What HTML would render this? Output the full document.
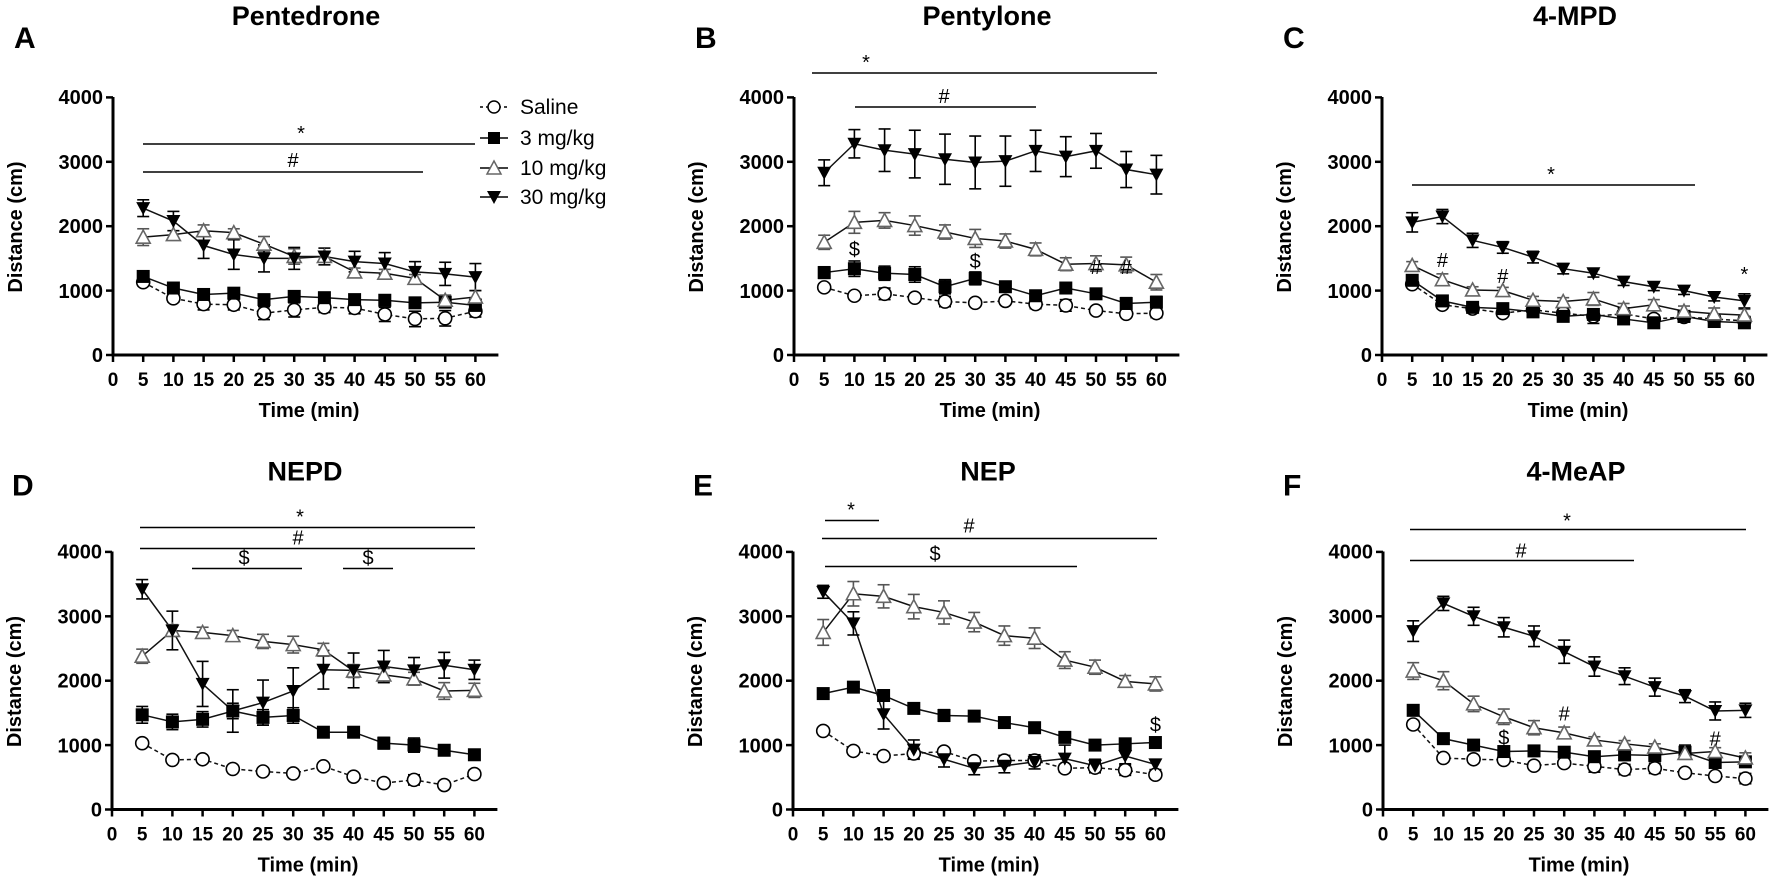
<!DOCTYPE html>
<html><head><meta charset="utf-8"><style>
html,body{margin:0;padding:0;background:#fff;}
svg{display:block;font-family:"Liberation Sans",Arial,sans-serif;}
.yl{font-weight:bold;font-size:20px;text-anchor:end;}
.xl{font-weight:bold;font-size:19px;text-anchor:middle;}
.ax{font-weight:bold;font-size:20px;text-anchor:middle;}
.ti{font-weight:bold;font-size:27px;text-anchor:middle;}
.le{font-weight:bold;font-size:30px;}
.sg{font-size:20px;text-anchor:middle;}
.lg{font-size:21px;}
</style></head><body>
<svg id="s" width="1772" height="879" viewBox="0 0 1772 879" xmlns="http://www.w3.org/2000/svg">
<g id="geo"></g>
<text class="lg" x="520" y="114">Saline</text>
<text class="lg" x="520" y="145">3 mg/kg</text>
<text class="lg" x="520" y="175">10 mg/kg</text>
<text class="lg" x="520" y="204">30 mg/kg</text>

<g transform="translate(113,355)">
<text class="ti" x="193" y="-330">Pentedrone</text>
<text class="le" x="-99" y="-307">A</text>
<g class="yl"><text x="-10" y="7">0</text><text x="-10" y="-57">1000</text><text x="-10" y="-122">2000</text><text x="-10" y="-186">3000</text><text x="-10" y="-251">4000</text></g>
<g class="xl"><text x="0" y="31">0</text><text x="30.2" y="31">5</text><text x="60.4" y="31">10</text><text x="90.6" y="31">15</text><text x="120.8" y="31">20</text><text x="151" y="31">25</text><text x="181.2" y="31">30</text><text x="211.4" y="31">35</text><text x="241.6" y="31">40</text><text x="271.8" y="31">45</text><text x="302" y="31">50</text><text x="332.2" y="31">55</text><text x="362.4" y="31">60</text></g>
<text class="ax" x="196" y="62">Time (min)</text>
<text class="ax" transform="translate(-91,-128) rotate(-90)">Distance (cm)</text>
<text class="sg" x="188" y="-215">*</text><text class="sg" x="180" y="-188">#</text>
</g>

<g transform="translate(794,355)">
<text class="ti" x="193" y="-330">Pentylone</text>
<text class="le" x="-99" y="-307">B</text>
<g class="yl"><text x="-10" y="7">0</text><text x="-10" y="-57">1000</text><text x="-10" y="-122">2000</text><text x="-10" y="-186">3000</text><text x="-10" y="-251">4000</text></g>
<g class="xl"><text x="0" y="31">0</text><text x="30.2" y="31">5</text><text x="60.4" y="31">10</text><text x="90.6" y="31">15</text><text x="120.8" y="31">20</text><text x="151" y="31">25</text><text x="181.2" y="31">30</text><text x="211.4" y="31">35</text><text x="241.6" y="31">40</text><text x="271.8" y="31">45</text><text x="302" y="31">50</text><text x="332.2" y="31">55</text><text x="362.4" y="31">60</text></g>
<text class="ax" x="196" y="62">Time (min)</text>
<text class="ax" transform="translate(-91,-128) rotate(-90)">Distance (cm)</text>
<text class="sg" x="72" y="-286">*</text><text class="sg" x="150" y="-252">#</text>
<text class="sg" x="60.4" y="-99">$</text><text class="sg" x="181.2" y="-87">$</text>
<text class="sg" x="302" y="-81">#</text><text class="sg" x="332.2" y="-81">#</text>
</g>

<g transform="translate(1382,355)">
<text class="ti" x="193" y="-330">4-MPD</text>
<text class="le" x="-99" y="-307">C</text>
<g class="yl"><text x="-10" y="7">0</text><text x="-10" y="-57">1000</text><text x="-10" y="-122">2000</text><text x="-10" y="-186">3000</text><text x="-10" y="-251">4000</text></g>
<g class="xl"><text x="0" y="31">0</text><text x="30.2" y="31">5</text><text x="60.4" y="31">10</text><text x="90.6" y="31">15</text><text x="120.8" y="31">20</text><text x="151" y="31">25</text><text x="181.2" y="31">30</text><text x="211.4" y="31">35</text><text x="241.6" y="31">40</text><text x="271.8" y="31">45</text><text x="302" y="31">50</text><text x="332.2" y="31">55</text><text x="362.4" y="31">60</text></g>
<text class="ax" x="196" y="62">Time (min)</text>
<text class="ax" transform="translate(-91,-128) rotate(-90)">Distance (cm)</text>
<text class="sg" x="169" y="-174">*</text>
<text class="sg" x="60.4" y="-88">#</text><text class="sg" x="120.8" y="-72">#</text>
<text class="sg" x="362.4" y="-74">*</text>
</g>

<g transform="translate(112,809.5)">
<text class="ti" x="193" y="-329">NEPD</text>
<text class="le" x="-100" y="-314">D</text>
<g class="yl"><text x="-10" y="7">0</text><text x="-10" y="-57">1000</text><text x="-10" y="-122">2000</text><text x="-10" y="-186">3000</text><text x="-10" y="-251">4000</text></g>
<g class="xl"><text x="0" y="31">0</text><text x="30.2" y="31">5</text><text x="60.4" y="31">10</text><text x="90.6" y="31">15</text><text x="120.8" y="31">20</text><text x="151" y="31">25</text><text x="181.2" y="31">30</text><text x="211.4" y="31">35</text><text x="241.6" y="31">40</text><text x="271.8" y="31">45</text><text x="302" y="31">50</text><text x="332.2" y="31">55</text><text x="362.4" y="31">60</text></g>
<text class="ax" x="196" y="62">Time (min)</text>
<text class="ax" transform="translate(-91,-128) rotate(-90)">Distance (cm)</text>
<text class="sg" x="188" y="-286">*</text><text class="sg" x="186" y="-265">#</text>
<text class="sg" x="132" y="-245">$</text><text class="sg" x="256" y="-245">$</text>
</g>

<g transform="translate(793,809.5)">
<text class="ti" x="195" y="-329">NEP</text>
<text class="le" x="-100" y="-314">E</text>
<g class="yl"><text x="-10" y="7">0</text><text x="-10" y="-57">1000</text><text x="-10" y="-122">2000</text><text x="-10" y="-186">3000</text><text x="-10" y="-251">4000</text></g>
<g class="xl"><text x="0" y="31">0</text><text x="30.2" y="31">5</text><text x="60.4" y="31">10</text><text x="90.6" y="31">15</text><text x="120.8" y="31">20</text><text x="151" y="31">25</text><text x="181.2" y="31">30</text><text x="211.4" y="31">35</text><text x="241.6" y="31">40</text><text x="271.8" y="31">45</text><text x="302" y="31">50</text><text x="332.2" y="31">55</text><text x="362.4" y="31">60</text></g>
<text class="ax" x="196" y="62">Time (min)</text>
<text class="ax" transform="translate(-91,-128) rotate(-90)">Distance (cm)</text>
<text class="sg" x="58" y="-293">*</text><text class="sg" x="176" y="-277">#</text>
<text class="sg" x="142" y="-249">$</text><text class="sg" x="362.4" y="-78">$</text>
</g>

<g transform="translate(1383,809.5)">
<text class="ti" x="193" y="-329">4-MeAP</text>
<text class="le" x="-100" y="-314">F</text>
<g class="yl"><text x="-10" y="7">0</text><text x="-10" y="-57">1000</text><text x="-10" y="-122">2000</text><text x="-10" y="-186">3000</text><text x="-10" y="-251">4000</text></g>
<g class="xl"><text x="0" y="31">0</text><text x="30.2" y="31">5</text><text x="60.4" y="31">10</text><text x="90.6" y="31">15</text><text x="120.8" y="31">20</text><text x="151" y="31">25</text><text x="181.2" y="31">30</text><text x="211.4" y="31">35</text><text x="241.6" y="31">40</text><text x="271.8" y="31">45</text><text x="302" y="31">50</text><text x="332.2" y="31">55</text><text x="362.4" y="31">60</text></g>
<text class="ax" x="196" y="62">Time (min)</text>
<text class="ax" transform="translate(-91,-128) rotate(-90)">Distance (cm)</text>
<text class="sg" x="184" y="-282">*</text><text class="sg" x="138" y="-252">#</text>
<text class="sg" x="120.8" y="-65">$</text><text class="sg" x="181.2" y="-89">#</text><text class="sg" x="332.2" y="-64">#</text>
</g>
</svg>
<script>
(function(){
var NS="http://www.w3.org/2000/svg",G=document.getElementById("geo");
function el(t,a){var e=document.createElementNS(NS,t);for(var k in a)e.setAttribute(k,a[k]);G.appendChild(e);return e;}
var S=30.2,K=0.0644;
var P=[
{ax:113,y0:355,
 d:[[1130,880,790,780,650,700,740,730,630,560,570,680],[1220,1040,940,960,860,910,890,860,850,810,820,770],[1830,1870,1930,1900,1720,1530,1530,1290,1270,1190,850,900],[2280,2080,1700,1560,1500,1500,1530,1450,1420,1290,1260,1210]],
 e:[[50,60,90,80,100,110,80,90,110,120,120,90],[50,50,50,50,60,60,60,60,60,60,80,100],[130,60,90,60,120,120,60,60,60,60,80,100],[130,150,200,230,210,170,130,160,170,160,180,210]],
 bars:[[143,475,-211],[143,423,-183]]},
{ax:794,y0:355,
 d:[[1050,920,950,890,830,810,840,790,770,690,640,650],[1280,1340,1270,1250,1060,1190,1060,920,1040,950,800,820],[1750,2060,2090,2010,1910,1810,1770,1640,1410,1420,1400,1130],[2830,3280,3180,3120,3040,2990,3010,3170,3080,3170,2880,2800]],
 e:[[50,50,90,50,80,50,50,70,90,50,50,70],[90,120,110,120,110,100,70,80,80,70,90,90],[110,170,120,150,110,140,110,100,100,120,120,120],[200,220,330,370,390,410,390,320,310,270,280,300]],
 bars:[[812,1157,-282],[855,1036,-248]]},
{ax:1382,y0:355,
 d:[[1100,780,720,650,700,650,600,640,560,590,560,530],[1160,840,740,720,670,600,630,560,500,600,520,500],[1390,1170,1010,1000,850,830,870,720,780,680,640,620],[2060,2150,1780,1670,1520,1340,1270,1140,1060,1000,900,840]],
 e:[[50,50,60,50,100,60,110,90,60,80,60,70],[60,60,60,60,60,60,60,60,60,60,60,60],[60,90,50,50,60,60,100,80,80,80,90,90],[150,110,110,90,90,80,60,60,60,60,60,110]],
 bars:[[1412,1695,-170]]},
{ax:112,y0:809.5,
 d:[[1030,770,780,630,590,560,670,510,410,460,380,550],[1470,1360,1400,1530,1430,1460,1200,1200,1030,1000,920,850],[2380,2780,2750,2700,2610,2560,2480,2150,2090,2030,1840,1850],[3420,2780,1950,1530,1660,1840,2170,2160,2220,2160,2240,2170]],
 e:[[40,40,40,40,40,40,40,40,40,80,40,60],[130,120,120,120,120,120,60,60,90,110,80,60],[110,90,80,80,110,130,100,100,100,100,130,110],[150,300,350,330,350,360,300,270,250,200,200,150]],
 bars:[[140,475,-282],[140,475,-261],[192,302,-241],[343,393,-241]]},
{ax:793,y0:809.5,
 d:[[1220,910,830,870,900,750,760,760,640,650,610,540],[1800,1900,1770,1570,1460,1450,1350,1270,1120,1000,1020,1040],[2750,3350,3310,3150,3060,2910,2700,2660,2320,2210,1990,1950],[3380,2890,1480,930,780,640,680,740,790,680,830,700]],
 e:[[40,40,40,80,50,60,80,70,60,80,80,40],[50,70,60,70,90,60,50,50,50,50,50,50],[200,190,180,190,180,150,150,160,130,110,90,110],[100,180,230,150,120,100,110,110,210,100,120,80]],
 bars:[[825,879,-289],[822,1157,-271],[825,1077,-243]]},
{ax:1383,y0:809.5,
 d:[[1320,800,780,770,680,720,670,620,640,570,520,480],[1540,1100,1000,900,910,890,820,850,840,890,730,740],[2150,2000,1640,1440,1270,1190,1080,1020,970,870,900,800],[2770,3200,3000,2830,2690,2450,2220,2070,1900,1760,1530,1540]],
 e:[[60,40,40,40,40,40,90,80,80,40,40,80],[60,40,40,40,40,40,40,90,90,110,60,60],[130,140,120,120,110,90,50,50,50,50,60,80],[160,110,140,150,160,180,150,130,140,100,140,110]],
 bars:[[1410,1746,-280],[1410,1634,-249]]}
];
P.forEach(function(p){
 var ax=p.ax,y0=p.y0;
 function X(i){return ax+(i+1)*S;}
 function Y(v){return y0-v*K;}
 el("line",{x1:ax,y1:y0-258,x2:ax,y2:y0+1.5,stroke:"#000","stroke-width":3});
 el("line",{x1:ax-1.5,y1:y0,x2:ax+12*S+23,y2:y0,stroke:"#000","stroke-width":3});
 for(var v=0;v<=4000;v+=1000)el("line",{x1:ax-7,y1:Y(v),x2:ax,y2:Y(v),stroke:"#000","stroke-width":2.5});
 for(var i=0;i<=12;i++)el("line",{x1:ax+i*S,y1:y0,x2:ax+i*S,y2:y0+7,stroke:"#000","stroke-width":2.5});
 p.bars.forEach(function(b){el("line",{x1:b[0],y1:y0+b[2],x2:b[1],y2:y0+b[2],stroke:"#000","stroke-width":1.6});});
 for(var s=0;s<4;s++){
  var pts=p.d[s].map(function(v,i){return X(i)+","+Y(v);}).join(" ");
  var a={points:pts,fill:"none",stroke:"#111","stroke-width":1.5};
  if(s==0)a["stroke-dasharray"]="4,3";
  el("polyline",a);
 }
 for(var s=0;s<4;s++){
  for(var i=0;i<12;i++){
   var x=X(i),y=Y(p.d[s][i]),e=p.e[s][i]*K,c=s==2?"#555":"#000";
   el("line",{x1:x,y1:y-e,x2:x,y2:y+e,stroke:c,"stroke-width":1.6});
   el("line",{x1:x-6,y1:y-e,x2:x+6,y2:y-e,stroke:c,"stroke-width":1.6});
   el("line",{x1:x-6,y1:y+e,x2:x+6,y2:y+e,stroke:c,"stroke-width":1.6});
  }
 }
 for(var s=0;s<4;s++){
  for(var i=0;i<12;i++){
   var x=X(i),y=Y(p.d[s][i]);
   if(s==0)el("circle",{cx:x,cy:y,r:6.5,fill:"#fff",stroke:"#000","stroke-width":1.6});
   else if(s==1)el("rect",{x:x-6.5,y:y-6.5,width:13,height:13,fill:"#000"});
   else if(s==2)el("polygon",{points:(x-7)+","+(y+6)+" "+(x+7)+","+(y+6)+" "+x+","+(y-7),fill:"#fff",stroke:"#666","stroke-width":1.6});
   else el("polygon",{points:(x-7)+","+(y-6)+" "+(x+7)+","+(y-6)+" "+x+","+(y+7),fill:"#000"});
  }
 }
});
var LY=[107,138,168,197];
for(var k=0;k<4;k++){
 var y=LY[k],x=494;
 var a={x1:480,y1:y,x2:508,y2:y,stroke:"#000","stroke-width":1.5};if(k==0)a["stroke-dasharray"]="3,3";el("line",a);
 if(k==0)el("circle",{cx:x,cy:y,r:6,fill:"#fff",stroke:"#000","stroke-width":1.5});
 else if(k==1)el("rect",{x:x-6,y:y-6,width:12,height:12,fill:"#000"});
 else if(k==2)el("polygon",{points:(x-7)+","+(y+6)+" "+(x+7)+","+(y+6)+" "+x+","+(y-7),fill:"#fff",stroke:"#666","stroke-width":1.5});
 else el("polygon",{points:(x-7)+","+(y-6)+" "+(x+7)+","+(y-6)+" "+x+","+(y+7),fill:"#000"});
}
})();
</script>
</body></html>
